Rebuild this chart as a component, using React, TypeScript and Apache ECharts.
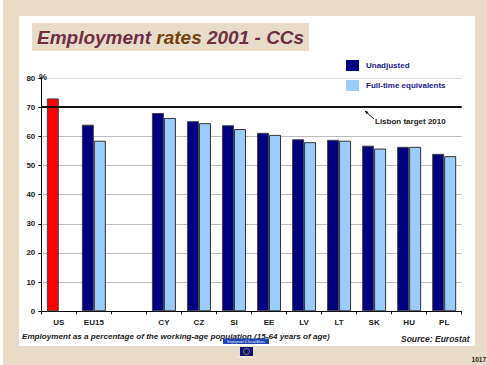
import React, { useEffect, useRef } from "react";
import * as echarts from "echarts";

const categories = ["US", "EU15", "", "CY", "CZ", "SI", "EE", "LV", "LT", "SK", "HU", "PL"];
const unadjusted = [73, 64, null, 68, 65.2, 63.8, 61.2, 59, 58.8, 56.8, 56.4, 54];
const fullTime = [null, 58.5, null, 66.3, 64.5, 62.5, 60.5, 58, 58.5, 55.8, 56.4, 53.2];
const lisbonTarget = 70;
const yTicks = { min: 0, max: 80, interval: 10 };

const SANS = '"Liberation Sans", Arial, sans-serif';
const BEIGE = "#e8dcc8";
const NAVY = "#000080";
const SKY = "#99ccff";
const MAROON = "#6e2f45";
const BROWN = "#74420f";

const titleRun = (fill: string) => ({
  fill,
  fontFamily: SANS,
  fontSize: 19,
  fontWeight: "bold",
  fontStyle: "italic",
});

export default function App() {
  const ref = useRef<HTMLDivElement>(null);

  useEffect(() => {
    document.body.style.margin = "0";
    const chart = echarts.init(ref.current!, null, { renderer: "svg" });
    const back = -20;
    chart.setOption({
      animation: false,
      backgroundColor: "#ffffff",
      textStyle: { fontFamily: SANS },
      grid: { left: 41.3, right: 25.3, top: 78, bottom: 53.7, containLabel: false },
      legend: {
        orient: "vertical",
        left: 346,
        top: 60,
        padding: 0,
        icon: "rect",
        itemWidth: 13,
        itemHeight: 11,
        itemGap: 9,
        selectedMode: false,
        textStyle: { color: "#20208c", fontSize: 8, fontWeight: "bold", fontFamily: SANS, padding: [0, 0, 0, 2] },
        data: [
          { name: "Unadjusted", itemStyle: { borderWidth: 0 } },
          { name: "Full-time equivalents", itemStyle: { borderWidth: 0 } },
        ],
      },
      xAxis: {
        type: "category",
        data: categories,
        axisLine: { lineStyle: { color: "#000", width: 1 } },
        axisTick: { show: true, alignWithLabel: false, length: 3, inside: false, lineStyle: { color: "#000" } },
        axisLabel: { interval: 0, margin: 7, color: "#222", fontSize: 8, fontWeight: "bold", fontFamily: SANS },
        splitLine: { show: false },
      },
      yAxis: {
        type: "value",
        ...yTicks,
        axisLine: { show: true, lineStyle: { color: "#000", width: 1 } },
        axisTick: { show: true, length: 3, lineStyle: { color: "#000" } },
        axisLabel: { margin: 6, color: "#222", fontSize: 8, fontWeight: "bold", fontFamily: SANS },
        splitLine: {
          show: true,
          lineStyle: {
            width: 1.2,
            color: ["#bdbdbd", "#bdbdbd", "#bdbdbd", "#bdbdbd", "#bdbdbd", "#bdbdbd", "#bdbdbd", "#bdbdbd", "#e0e0e0"],
          },
        },
      },
      series: [
        {
          name: "Unadjusted",
          type: "bar",
          barWidth: 12,
          barGap: 0,
          data: unadjusted.map((v, i) =>
            i === 0 ? { value: v, itemStyle: { color: "#ff0000" } } : v
          ),
          itemStyle: { color: NAVY, borderColor: "#444", borderWidth: 1 },
          markLine: {
            silent: true,
            symbol: "none",
            label: { show: false },
            lineStyle: { color: "#111", width: 2, type: "solid" },
            data: [{ yAxis: lisbonTarget }],
          },
        },
        {
          name: "Full-time equivalents",
          type: "bar",
          barWidth: 12,
          data: fullTime,
          itemStyle: { color: SKY, borderColor: "#333", borderWidth: 1 },
        },
      ],
      graphic: {
        elements: [
          // Slide frame
          { type: "rect", z: back, shape: { x: 3, y: 0, width: 484, height: 365 }, style: { fill: BEIGE } },
          { type: "rect", z: back + 1, shape: { x: 19, y: 16, width: 456, height: 330 }, style: { fill: "#ffffff" } },
          // Title band
          { type: "rect", z: back + 2, shape: { x: 32, y: 23, width: 277, height: 28 }, style: { fill: BEIGE } },
          {
            type: "text",
            z: 10,
            x: 37,
            y: 37,
            style: {
              text: "{a|Employment} {b|rates} {a|2001 - CCs}",
              verticalAlign: "middle",
              fontFamily: SANS,
              fontSize: 19,
              fontWeight: "bold",
              fontStyle: "italic",
              rich: { a: titleRun(MAROON), b: titleRun(BROWN) },
            },
          },
          // Axis unit
          {
            type: "text",
            z: 10,
            x: 39,
            y: 77,
            style: { text: "%", fill: "#222", font: `bold 9px ${SANS}`, verticalAlign: "middle" },
          },
          // Callout for the target line
          {
            type: "line",
            z: 10,
            shape: { x1: 365, y1: 111, x2: 374, y2: 119 },
            style: { stroke: "#111", lineWidth: 1 },
          },
          {
            type: "polygon",
            z: 10,
            shape: { points: [[364.5, 110.5], [368.5, 112], [366.5, 114]] },
            style: { fill: "#111" },
          },
          {
            type: "text",
            z: 10,
            x: 375,
            y: 121,
            style: { text: "Lisbon target 2010", fill: "#222", font: `bold 8px ${SANS}`, verticalAlign: "middle" },
          },
          // Footer notes
          {
            type: "text",
            z: 10,
            x: 22,
            y: 336,
            style: {
              text: "Employment as a percentage of the working-age population (15-64 years of age)",
              fill: "#222",
              font: `italic bold 8.1px ${SANS}`,
              verticalAlign: "middle",
            },
          },
          {
            type: "text",
            z: 10,
            x: 401,
            y: 339,
            style: { text: "Source: Eurostat", fill: "#222", font: `italic bold 8.5px ${SANS}`, verticalAlign: "middle" },
          },
          // Commission badge
          { type: "rect", z: 11, shape: { x: 223, y: 338.5, width: 46, height: 5.5 }, style: { fill: "#1f45b5" } },
          {
            type: "text",
            z: 12,
            x: 246,
            y: 341.3,
            style: {
              text: "Employment & Social Affairs",
              fill: "#e8ecff",
              font: `3px ${SANS}`,
              align: "center",
              verticalAlign: "middle",
            },
          },
          { type: "rect", z: 11, shape: { x: 240, y: 347, width: 13, height: 9 }, style: { fill: "#10107a" } },
          {
            type: "circle",
            z: 12,
            shape: { cx: 246.5, cy: 351.5, r: 3 },
            style: { fill: "none", stroke: "#b8ac50", lineWidth: 0.7 },
          },
          { type: "rect", z: 11, shape: { x: 236, y: 356.5, width: 20, height: 1 }, style: { fill: "#f4efe6" } },
          // Slide number in the bottom-right corner
          {
            type: "text",
            z: 10,
            x: 486,
            y: 359,
            style: { text: "1017", fill: "#222", font: `bold 6.5px ${SANS}`, align: "right", verticalAlign: "middle" },
          },
        ],
      },
    });
    return () => chart.dispose();
  }, []);

  return <div ref={ref} style={{ width: 487, height: 365 }} />;
}
